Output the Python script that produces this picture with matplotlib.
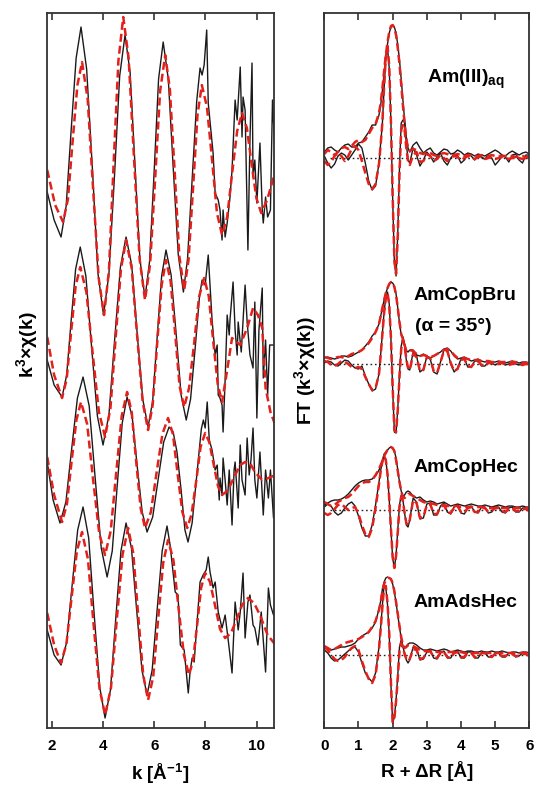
"""EXAFS k3-weighted spectra (left) and their Fourier transforms (right) for four Am samples."""

import matplotlib
matplotlib.use("Agg")  # no display
import matplotlib.pyplot as plt
import numpy as np

plt.rcParams["font.family"] = ["Liberation Sans", "DejaVu Sans"]
plt.rcParams["font.weight"] = "bold"
plt.rcParams["mathtext.fontset"] = "custom"
plt.rcParams["mathtext.rm"] = "Liberation Sans:bold"
plt.rcParams["mathtext.it"] = "Liberation Sans:bold"
plt.rcParams["mathtext.bf"] = "Liberation Sans:bold"

DATA_COLOR = "#1a1a1a"
FIT_COLOR = "#e3211c"

# ---- k-space spectra (stacked, arbitrary units) ----
# Am(III)aq
k_aq = [1.82, 2.09, 2.36, 2.56, 2.75, 2.95, 3.14, 3.36, 3.59, 3.80, 4.02, 4.23, 4.45, 4.65, 4.86,
        5.06, 5.25, 5.44, 5.64, 5.82, 6.00, 6.17, 6.35, 6.55, 6.74, 6.94, 7.14, 7.30, 7.48, 7.66,
        7.79, 7.87, 7.95, 8.05, 8.11, 8.30, 8.38, 8.50, 8.57, 8.65, 8.69, 8.77, 8.85, 8.96, 9.04,
        9.16, 9.24, 9.36, 9.43, 9.47, 9.55, 9.66, 9.74, 9.82, 9.86, 9.93, 10.01, 10.13, 10.22, 10.26,
        10.35, 10.43, 10.54, 10.62, 10.70]
chi_aq = [53.6, 50.8, 49.1, 52.2, 59.6, 67.0, 70.1, 65.9, 55.7, 45.5, 41.3, 45.4, 55.3, 65.2, 69.3,
          65.5, 56.2, 46.9, 43.0, 46.7, 55.8, 64.9, 68.6, 64.9, 56.1, 47.3, 43.6, 46.9, 54.8, 62.7,
          66.0, 65.3, 66.3, 69.8, 62.5, 57.5, 53.5, 52.8, 51.8, 48.8, 51.8, 49.1, 50.5, 53.1, 55.8,
          62.8, 60.8, 66.1, 59.1, 63.1, 61.8, 47.8, 58.8, 66.5, 55.1, 56.8, 52.5, 58.5, 51.8, 50.5,
          53.1, 51.1, 51.8, 62.8, 58.5]
kfit_aq = [1.82, 2.13, 2.44, 2.63, 2.81, 3.00, 3.18, 3.40, 3.61, 3.83, 4.04, 4.23, 4.41, 4.60, 4.79,
           5.00, 5.21, 5.43, 5.64, 5.84, 6.04, 6.23, 6.43, 6.61, 6.80, 6.98, 7.17, 7.34, 7.52, 7.69,
           7.86, 8.06, 8.26, 8.45, 8.65, 8.85, 9.04, 9.24, 9.43, 9.62, 9.80, 9.99, 10.18, 10.41, 10.69]
fit_aq = [55.8, 52.3, 50.6, 52.9, 58.6, 64.3, 66.6, 62.9, 54.0, 45.0, 41.3, 45.7, 56.2, 66.7, 71.1,
          67.0, 57.0, 46.9, 42.8, 46.4, 55.1, 63.7, 67.3, 63.9, 55.6, 47.2, 43.8, 46.8, 54.1, 61.3,
          64.3, 62.1, 56.8, 51.5, 49.3, 51.1, 55.4, 59.7, 61.5, 60.0, 56.5, 53.0, 51.5, 52.8, 55.3]

# AmCopBru
k_bru = [1.82, 2.09, 2.40, 2.58, 2.75, 2.93, 3.11, 3.33, 3.55, 3.78, 4.00, 4.23, 4.45, 4.68, 4.90,
         5.12, 5.33, 5.55, 5.76, 5.94, 6.11, 6.29, 6.46, 6.66, 6.86, 7.05, 7.25, 7.42, 7.60, 7.77,
         7.87, 7.99, 8.11, 8.26, 8.38, 8.46, 8.50, 8.57, 8.65, 8.69, 8.77, 8.85, 8.93, 8.96, 9.08,
         9.16, 9.24, 9.28, 9.40, 9.55, 9.63, 9.74, 9.86, 9.93, 10.01, 10.09, 10.22, 10.26, 10.35, 10.43,
         10.51, 10.70]
chi_bru = [36.8, 34.3, 33.1, 35.3, 40.6, 45.9, 48.1, 45.2, 38.2, 31.2, 28.3, 31.3, 38.7, 46.1, 49.1,
           46.3, 39.6, 32.9, 30.1, 32.7, 38.9, 45.2, 47.8, 45.3, 39.3, 33.3, 30.8, 32.9, 38.0, 43.2,
           44.8, 44.3, 47.3, 40.8, 37.3, 38.3, 33.3, 33.0, 32.3, 29.6, 34.8, 41.3, 39.3, 40.8, 44.6,
           39.8, 37.3, 40.6, 37.6, 44.3, 40.6, 37.3, 36.0, 42.6, 31.0, 39.8, 44.0, 35.0, 38.8, 33.3,
           38.3, 38.3]
kfit_bru = [1.82, 2.09, 2.40, 2.58, 2.75, 2.93, 3.11, 3.35, 3.59, 3.84, 4.08, 4.29, 4.49, 4.70, 4.90,
            5.12, 5.33, 5.55, 5.76, 5.94, 6.11, 6.29, 6.46, 6.64, 6.82, 6.99, 7.17, 7.36, 7.56, 7.75,
            7.95, 8.13, 8.30, 8.48, 8.65, 8.85, 9.04, 9.36, 9.63, 9.86, 10.05, 10.22, 10.35, 10.54, 10.70]
fit_bru = [39.1, 35.3, 33.0, 34.9, 39.5, 44.2, 46.1, 43.6, 37.6, 31.6, 29.1, 32.0, 38.9, 45.9, 48.8,
           46.0, 39.3, 32.6, 29.8, 32.3, 38.3, 44.3, 46.8, 44.7, 39.4, 34.2, 32.1, 34.0, 38.5, 43.1,
           45.0, 43.2, 38.8, 34.4, 32.6, 35.8, 39.0, 38.3, 40.0, 42.0, 41.3, 40.0, 34.0, 31.6, 30.5]

# AmCopHec
k_cop = [1.82, 2.05, 2.32, 2.55, 2.77, 3.00, 3.22, 3.46, 3.69, 3.93, 4.16, 4.36, 4.55, 4.75, 4.94,
         5.14, 5.33, 5.53, 5.72, 5.94, 6.15, 6.37, 6.58, 6.74, 6.89, 7.05, 7.20, 7.32, 7.48, 7.66,
         7.84, 7.92, 7.99, 8.07, 8.15, 8.26, 8.38, 8.46, 8.54, 8.57, 8.65, 8.69, 8.77, 8.85, 8.93,
         9.04, 9.12, 9.16, 9.28, 9.36, 9.43, 9.55, 9.63, 9.71, 9.78, 9.86, 9.93, 10.01, 10.13, 10.26,
         10.35, 10.46, 10.54, 10.66, 10.74]
chi_cop = [26.6, 22.8, 20.5, 22.6, 27.8, 33.0, 35.1, 32.2, 25.1, 18.0, 15.1, 17.7, 24.1, 30.5, 33.1,
           31.1, 26.3, 21.6, 19.6, 21.1, 24.8, 28.6, 30.1, 29.6, 27.6, 23.8, 19.8, 18.6, 20.5, 25.2,
           29.9, 30.8, 30.0, 32.6, 28.8, 27.8, 25.8, 26.3, 22.8, 25.0, 23.3, 27.0, 24.8, 22.3, 25.8,
           20.3, 25.8, 26.6, 22.0, 28.3, 24.8, 23.3, 29.0, 25.3, 26.8, 30.0, 24.8, 23.0, 27.6, 21.3,
           25.8, 23.0, 25.8, 21.0, 24.8]
kfit_cop = [1.82, 2.09, 2.40, 2.59, 2.77, 2.96, 3.14, 3.38, 3.61, 3.85, 4.08, 4.30, 4.51, 4.73, 4.94,
            5.12, 5.29, 5.47, 5.64, 5.87, 6.09, 6.32, 6.54, 6.73, 6.91, 7.10, 7.29, 7.46, 7.64, 7.81,
            7.99, 8.15, 8.32, 8.49, 8.65, 8.89, 9.12, 9.36, 9.55, 9.74, 9.93, 10.22, 10.46, 10.74]
fit_cop = [27.1, 23.3, 20.6, 22.4, 26.6, 30.8, 32.6, 30.4, 24.9, 19.5, 17.3, 19.7, 25.4, 31.2, 33.6,
           31.6, 26.8, 22.0, 20.0, 21.6, 25.5, 29.4, 31.0, 29.4, 25.5, 21.6, 20.0, 21.4, 24.7, 28.1,
           29.5, 28.6, 26.4, 24.2, 23.3, 23.8, 25.1, 26.3, 26.6, 26.5, 25.6, 24.8, 25.0, 25.3]

# AmAdsHec
k_ads = [1.82, 2.09, 2.36, 2.58, 2.79, 3.01, 3.22, 3.44, 3.65, 3.87, 4.08, 4.29, 4.49, 4.70, 4.90,
         5.11, 5.31, 5.52, 5.72, 5.92, 6.11, 6.31, 6.50, 6.62, 6.82, 6.93, 7.02, 7.17, 7.33, 7.40,
         7.48, 7.56, 7.68, 7.79, 7.91, 8.03, 8.11, 8.18, 8.30, 8.38, 8.50, 8.65, 8.77, 8.89, 9.04,
         9.16, 9.28, 9.36, 9.47, 9.55, 9.66, 9.74, 9.86, 9.93, 10.05, 10.18, 10.35, 10.46, 10.54, 10.66,
         10.74]
chi_ads = [9.8, 7.3, 6.3, 8.6, 14.2, 19.8, 22.1, 19.0, 11.5, 4.1, 1.0, 3.8, 10.7, 17.7, 20.5,
           18.0, 11.9, 5.8, 3.3, 5.8, 11.7, 17.7, 20.2, 18.3, 13.6, 13.3, 8.3, 7.8, 3.5, 5.6,
           7.0, 6.6, 10.8, 14.6, 15.3, 15.8, 17.1, 15.6, 14.0, 14.6, 11.6, 10.0, 11.3, 8.8, 5.5,
           12.6, 9.8, 11.6, 15.5, 9.0, 12.6, 13.3, 10.3, 10.0, 8.3, 11.6, 5.6, 14.0, 12.3, 11.3,
           12.8]
kfit_ads = [1.82, 2.09, 2.36, 2.57, 2.77, 2.98, 3.18, 3.41, 3.63, 3.86, 4.08, 4.31, 4.53, 4.76, 4.98,
            5.18, 5.37, 5.57, 5.76, 5.96, 6.15, 6.35, 6.54, 6.75, 6.95, 7.16, 7.36, 7.52, 7.68, 7.83,
            7.99, 8.18, 8.38, 8.57, 8.77, 9.00, 9.24, 9.43, 9.66, 9.90, 10.13, 10.43, 10.74]
fit_ads = [11.5, 8.3, 6.5, 8.4, 13.0, 17.7, 19.6, 16.9, 10.4, 4.0, 1.3, 4.0, 10.6, 17.3, 20.0,
           17.5, 11.4, 5.3, 2.8, 5.1, 10.8, 16.5, 18.8, 16.8, 12.0, 7.3, 5.3, 6.8, 10.4, 14.0,
           15.5, 14.6, 12.2, 9.9, 9.0, 9.5, 11.0, 12.3, 13.0, 12.5, 11.3, 9.3, 8.3]

# ---- R-space: magnitude and imaginary part, relative to each baseline ----
R_FT = ([0.0, 0.1, 0.2, 0.3, 0.4, 0.5, 0.6, 0.7, 0.8, 0.9, 1.0, 1.1, 1.2, 1.3, 1.4, 1.5, 1.6]
        + [1.65, 1.7, 1.75, 1.8, 1.85, 1.9, 1.95, 2.0, 2.05, 2.1, 2.15, 2.2, 2.25, 2.3, 2.35, 2.4, 2.45, 2.5]
        + [2.6, 2.7, 2.8, 2.9, 3.0, 3.1, 3.2, 3.3, 3.4, 3.5, 3.6, 3.7, 3.8, 3.9, 4.0, 4.1, 4.2, 4.3,
           4.4, 4.5, 4.6, 4.7, 4.8, 4.9, 5.0, 5.1, 5.2, 5.3, 5.4, 5.5, 5.6, 5.7, 5.8, 5.9, 6.0])
ft_offsets = [57.0, 36.4, 21.8, 7.3]

mag_aq = ([0.6, 1.0, 1.1, 0.8, 0.6, 1.0, 1.3, 1.4, 1.1, 1.1, 1.5, 1.6, 2.1, 2.6, 3.3, 3.3, 4.3]
          + [5.3, 6.8, 8.5, 10.1, 11.4, 12.5, 13.1, 13.3, 13.1, 12.5, 11.3, 9.8, 7.9, 5.8, 3.8, 2.1, 1.0, 0.6]
          + [1.3, 1.6, 1.0, 0.5, 0.8, 1.0, 0.5, 0.3, 0.6, 0.9, 0.8, 0.4, 0.5, 0.8, 0.6, 0.3, 0.5, 0.4,
             0.2, 0.4, 0.3, 0.2, 0.4, 0.6, 0.8, 0.6, 0.3, 0.2, 0.5, 0.7, 0.5, 0.3, 0.5, 0.6, 0.4])
im_aq = ([0.2, -0.5, -1.0, -0.6, 0.2, 0.5, 0.3, -0.2, 0.3, 0.8, 1.4, 1.0, -0.5, -2.3, -3.2, -2.8, -0.5]
         + [1.5, 3.5, 7.0, 10.0, 11.0, 9.0, 3.5, -4.0, -10.5, -11.8, -7.5, -1.0, 3.5, 3.8, 3.6, 1.5, -0.2, -0.5]
         + [1.0, 0.3, -0.8, -0.2, 0.6, 0.2, -0.4, 0.1, 0.5, -0.3, -0.7, 0.0, 0.4, 0.2, -0.5, -0.2, 0.4, 0.2,
            -0.2, 0.2, 0.1, -0.1, 0.3, 0.0, -0.7, -0.3, 0.2, 0.1, -0.4, 0.3, 0.4, -0.2, -0.5, 0.3, 0.3])
magfit_aq = ([0.4, 0.8, 0.6, 0.3, 0.6, 1.0, 1.1, 0.9, 1.2, 1.6, 1.8, 1.6, 1.8, 2.4, 3.0, 3.4, 4.5]
             + [5.5, 7.0, 8.7, 10.3, 11.6, 12.6, 13.2, 13.3, 13.0, 12.3, 11.0, 9.4, 7.4, 5.3, 3.4, 1.9, 1.0, 0.7]
             + [0.9, 0.8, 0.5, 0.4, 0.6, 0.5, 0.3, 0.2, 0.4, 0.5, 0.4, 0.2, 0.3, 0.4, 0.3, 0.2, 0.3, 0.3,
                0.2, 0.2, 0.3, 0.2, 0.2, 0.3, 0.2, 0.2, 0.2, 0.2, 0.2, 0.2, 0.1, 0.2, 0.2, 0.1, 0.1])
imfit_aq = ([-0.3, -0.7, -0.4, 0.2, 0.5, 0.2, -0.3, 0.2, 0.9, 1.2, 0.8, -0.3, -1.5, -2.6, -3.1, -2.6, -0.6]
            + [1.4, 3.6, 7.2, 10.1, 11.2, 9.2, 3.6, -3.8, -10.2, -11.6, -7.8, -1.5, 2.8, 3.3, 2.8, 1.0, -0.3, -0.7]
            + [0.3, 0.6, -0.4, -0.3, 0.4, 0.2, -0.3, -0.1, 0.3, 0.0, -0.3, 0.0, 0.2, 0.1, -0.2, 0.0, 0.2, 0.0,
               -0.1, 0.1, 0.1, -0.1, 0.0, 0.1, -0.1, 0.0, 0.1, 0.0, -0.1, 0.0, 0.1, 0.0, -0.1, 0.0, 0.0])

mag_bru = ([0.6, 0.7, 0.6, 0.5, 0.6, 0.8, 0.8, 0.7, 0.8, 1.0, 1.2, 1.4, 1.8, 2.2, 2.8, 3.2, 4.0]
           + [4.8, 5.6, 6.4, 7.1, 7.6, 8.0, 8.2, 8.1, 7.8, 7.0, 5.6, 4.1, 2.9, 2.7, 2.0, 1.3, 1.2, 1.4]
           + [1.4, 0.9, 0.8, 1.0, 0.8, 0.6, 0.8, 1.0, 1.2, 1.5, 1.6, 1.3, 0.8, 0.5, 0.6, 0.7, 0.5, 0.3,
              0.4, 0.5, 0.3, 0.2, 0.3, 0.2, 0.2, 0.3, 0.2, 0.1, 0.2, 0.3, 0.2, 0.1, 0.2, 0.2, 0.1])
im_bru = ([0.1, 0.3, 0.2, -0.1, -0.2, 0.1, 0.4, 0.3, -0.1, -0.4, -0.5, -0.2, -1.2, -2.0, -2.7, -2.5, -1.0]
          + [1.0, 3.1, 5.2, 6.7, 7.2, 6.0, 2.5, -2.5, -6.8, -6.9, -4.5, -1.0, 1.8, 2.6, 1.8, 0.4, -0.5, -0.6]
          + [1.2, 0.8, -0.8, -0.5, 0.7, 0.5, -0.8, -1.0, 0.2, 1.4, 1.4, 0.0, -0.8, -0.4, 0.5, 0.5, -0.3, -0.3,
             0.3, 0.3, -0.2, -0.2, 0.2, 0.1, -0.1, 0.1, 0.1, -0.1, 0.0, 0.2, 0.0, -0.1, 0.1, 0.1, 0.0])
magfit_bru = ([0.7, 0.6, 0.5, 0.6, 0.7, 0.7, 0.6, 0.8, 1.0, 1.1, 1.2, 1.4, 1.7, 2.1, 2.6, 3.2, 4.0]
              + [4.8, 5.6, 6.4, 7.1, 7.6, 8.0, 8.2, 8.1, 7.7, 6.9, 5.6, 4.2, 3.0, 2.5, 1.9, 1.3, 1.2, 1.4]
              + [1.3, 1.0, 0.8, 0.9, 0.8, 0.7, 0.8, 1.0, 1.2, 1.4, 1.5, 1.3, 0.9, 0.6, 0.6, 0.6, 0.5, 0.4,
                 0.4, 0.4, 0.3, 0.3, 0.3, 0.2, 0.2, 0.2, 0.2, 0.2, 0.2, 0.2, 0.2, 0.1, 0.1, 0.1, 0.1])
imfit_bru = ([0.3, 0.2, -0.1, -0.2, 0.0, 0.3, 0.2, 0.0, -0.3, -0.4, -0.3, -0.5, -1.3, -2.0, -2.6, -2.4, -1.0]
             + [0.9, 3.0, 5.1, 6.6, 7.1, 5.9, 2.6, -2.3, -6.6, -6.8, -4.6, -1.3, 1.5, 2.4, 1.8, 0.5, -0.4, -0.6]
             + [1.0, 0.7, -0.7, -0.6, 0.7, 0.6, -0.7, -0.9, 0.2, 1.3, 1.3, 0.1, -0.7, -0.5, 0.4, 0.5, -0.2, -0.3,
                0.2, 0.3, -0.1, -0.2, 0.1, 0.1, -0.1, 0.0, 0.1, 0.0, -0.1, 0.0, 0.1, 0.0, -0.1, 0.0, 0.0])

mag_cop = ([0.5, 0.7, 0.9, 1.0, 1.0, 1.1, 1.3, 1.6, 2.0, 2.4, 2.7, 2.9, 3.0, 3.0, 3.1, 3.4, 4.0]
           + [4.4, 4.9, 5.6, 5.8, 6.0, 6.2, 6.3, 6.2, 5.9, 5.2, 4.0, 2.8, 1.9, 1.4, 1.5, 1.8, 1.9, 1.8]
           + [1.4, 1.2, 1.3, 1.0, 0.8, 0.9, 0.8, 0.6, 0.7, 0.8, 0.6, 0.4, 0.5, 0.6, 0.5, 0.4, 0.5, 0.6,
              0.5, 0.4, 0.4, 0.5, 0.4, 0.3, 0.4, 0.5, 0.4, 0.3, 0.4, 0.4, 0.3, 0.3, 0.4, 0.3, 0.3])
im_cop = ([0.3, 0.6, 0.4, -0.2, -0.5, -0.3, 0.2, 0.6, 0.8, 0.4, -0.6, -1.8, -2.6, -2.6, -1.5, 0.5, 2.8]
          + [4.0, 4.8, 5.5, 5.0, 3.5, 1.0, -2.0, -4.8, -5.8, -4.5, -2.0, 0.5, 1.5, 1.0, -0.3, -1.5, -1.7, -1.0]
          + [1.2, 0.8, -0.9, -0.8, 0.6, 0.7, -0.5, -0.5, 0.4, 0.7, -0.2, -0.4, 0.3, 0.5, -0.3, -0.4, 0.3, 0.4,
             -0.2, -0.3, 0.3, 0.3, -0.3, -0.2, 0.3, 0.3, -0.2, -0.3, 0.2, 0.3, -0.2, -0.2, 0.2, 0.2, -0.1])
magfit_cop = ([0.8, 0.6, 0.4, 0.5, 0.8, 1.0, 1.2, 1.3, 1.6, 2.0, 2.4, 2.7, 2.8, 2.8, 3.0, 3.5, 4.1]
              + [4.5, 4.9, 5.4, 5.7, 6.0, 6.2, 6.3, 6.2, 5.9, 5.0, 3.9, 2.8, 1.9, 1.3, 1.2, 1.4, 1.6, 1.6]
              + [1.4, 1.2, 1.0, 0.8, 0.7, 0.7, 0.6, 0.5, 0.5, 0.5, 0.4, 0.4, 0.4, 0.4, 0.3, 0.3, 0.3, 0.3,
                 0.3, 0.3, 0.3, 0.3, 0.2, 0.2, 0.2, 0.2, 0.2, 0.2, 0.2, 0.2, 0.2, 0.2, 0.2, 0.2, 0.2])
imfit_cop = ([-0.3, -0.5, -0.3, 0.1, 0.5, 0.6, 0.3, 0.0, 0.2, 0.3, -0.4, -1.5, -2.4, -2.7, -1.8, 0.2, 2.6]
             + [3.9, 4.9, 5.4, 5.0, 3.6, 1.1, -1.9, -4.7, -5.8, -4.6, -2.2, 0.3, 1.3, 0.9, -0.3, -1.3, -1.5, -1.0]
             + [1.0, 0.7, -0.8, -0.7, 0.5, 0.6, -0.4, -0.4, 0.3, 0.5, -0.2, -0.3, 0.2, 0.4, -0.2, -0.3, 0.2, 0.3,
                -0.2, -0.2, 0.2, 0.2, -0.2, -0.1, 0.2, 0.2, -0.1, -0.2, 0.1, 0.2, -0.1, -0.1, 0.1, 0.1, -0.1])

mag_ads = ([0.7, 0.6, 0.5, 0.6, 0.7, 0.8, 0.8, 0.9, 1.0, 1.2, 1.6, 1.9, 2.1, 2.3, 2.7, 3.3, 4.6]
           + [5.4, 6.6, 7.3, 7.7, 7.8, 7.7, 7.6, 7.1, 6.3, 5.2, 4.0, 2.8, 1.7, 0.9, 0.7, 0.9, 1.1, 1.2]
           + [1.2, 1.0, 0.7, 0.5, 0.5, 0.6, 0.5, 0.4, 0.5, 0.6, 0.5, 0.3, 0.4, 0.5, 0.4, 0.3, 0.4, 0.4,
              0.3, 0.3, 0.4, 0.3, 0.3, 0.4, 0.3, 0.3, 0.4, 0.3, 0.2, 0.3, 0.3, 0.2, 0.3, 0.3, 0.2])
im_ads = ([0.5, 0.2, -0.3, -0.6, -0.5, -0.2, 0.1, 0.4, 0.7, 0.8, 0.3, -0.8, -1.8, -2.3, -2.7, -1.8, 0.8]
          + [2.8, 5.0, 7.0, 6.8, 5.0, 2.0, -3.0, -6.8, -6.2, -4.5, -2.0, 0.8, 1.5, 0.8, 0.2, -0.5, -0.8, -0.5]
          + [0.8, 0.6, -0.5, -0.4, 0.3, 0.5, -0.3, -0.4, 0.2, 0.4, -0.3, -0.3, 0.3, 0.4, -0.3, -0.3, 0.3, 0.3,
             -0.3, -0.3, 0.2, 0.3, -0.2, -0.2, 0.2, 0.2, -0.2, -0.2, 0.2, 0.2, -0.2, -0.1, 0.2, 0.1, -0.1])
magfit_ads = ([0.9, 0.7, 0.5, 0.6, 0.8, 1.0, 1.2, 1.3, 1.4, 1.5, 1.6, 1.8, 2.0, 2.3, 2.8, 3.4, 4.5]
              + [5.3, 6.4, 7.1, 7.5, 7.7, 7.7, 7.6, 7.2, 6.4, 5.3, 4.1, 2.9, 1.8, 1.0, 0.7, 0.8, 1.0, 1.0]
              + [0.9, 0.7, 0.5, 0.4, 0.4, 0.4, 0.4, 0.3, 0.3, 0.3, 0.3, 0.3, 0.3, 0.3, 0.3, 0.2, 0.2, 0.2,
                 0.2, 0.2, 0.2, 0.2, 0.2, 0.2, 0.2, 0.2, 0.2, 0.2, 0.2, 0.2, 0.2, 0.2, 0.2, 0.2, 0.2])
imfit_ads = ([0.8, 0.5, 0.0, -0.4, -0.6, -0.5, -0.2, 0.3, 0.7, 0.9, 0.5, -0.6, -1.6, -2.4, -2.8, -2.0, 0.6]
             + [2.6, 4.8, 6.8, 6.9, 5.2, 2.2, -2.8, -6.7, -6.3, -4.6, -2.3, 0.4, 1.2, 0.7, 0.1, -0.4, -0.6, -0.4]
             + [0.6, 0.5, -0.4, -0.3, 0.3, 0.4, -0.2, -0.3, 0.2, 0.3, -0.2, -0.3, 0.2, 0.3, -0.2, -0.2, 0.2, 0.2,
                -0.2, -0.2, 0.2, 0.2, -0.1, -0.2, 0.1, 0.1, -0.1, -0.1, 0.1, 0.1, -0.1, -0.1, 0.1, 0.1, -0.1])

sample_labels = ["Am(III)$_{aq}$", "AmCopBru", "AmCopHec", "AmAdsHec"]
label_offsets = [7.5, 6.4, 3.8, 4.8]  # label baseline above each FT baseline
k_ticks = [2, 4, 6, 8, 10]
r_ticks = [0, 1, 2, 3, 4, 5, 6]


def style_axis(ax, ticks, xlim):
    """Boxed panel with inward ticks on top and bottom, no y ticks."""
    ax.set_xlim(*xlim)
    ax.set_ylim(0, 71.5)
    ax.set_xticks(ticks)
    ax.set_yticks([])
    ax.tick_params(axis="x", direction="in", top=True, length=5, width=1.2,
                   labelsize=11, pad=8, color="#333333")
    for lbl in ax.get_xticklabels():
        lbl.set_fontweight("bold")
    for spine in ax.spines.values():
        spine.set_linewidth(1.3)
        spine.set_color("#333333")


fig = plt.figure(figsize=(5.35, 7.85), dpi=100)
ax_k = fig.add_axes([0.0873, 0.0726, 0.4249, 0.9108])
ax_r = fig.add_axes([0.6062, 0.0726, 0.3832, 0.9108])

# k-space
spectra = [
    (k_aq, chi_aq, kfit_aq, fit_aq),
    (k_bru, chi_bru, kfit_bru, fit_bru),
    (k_cop, chi_cop, kfit_cop, fit_cop),
    (k_ads, chi_ads, kfit_ads, fit_ads),
]
for k, chi, kf, fit in spectra:
    ax_k.plot(k, chi, color=DATA_COLOR, lw=1.0)
    ax_k.plot(kf, fit, color=FIT_COLOR, lw=1.8, dashes=(3.2, 1.6))

style_axis(ax_k, k_ticks, (1.8, 10.68))
ax_k.set_xlabel("k [Å$^{-1}$]", fontsize=13.5, fontweight="bold", labelpad=6)
ax_k.set_ylabel("k$^{3}$×χ(k)", fontsize=14, fontweight="bold")
ax_k.yaxis.set_label_coords(-0.03, 0.536)

# R-space
transforms = [
    (mag_aq, im_aq, magfit_aq, imfit_aq),
    (mag_bru, im_bru, magfit_bru, imfit_bru),
    (mag_cop, im_cop, magfit_cop, imfit_cop),
    (mag_ads, im_ads, magfit_ads, imfit_ads),
]
R = np.array(R_FT)
for (mag, im, magf, imf), off in zip(transforms, ft_offsets):
    ax_r.axhline(off, xmin=0.03, xmax=1.0, color="#222222", lw=1.0, dashes=(1.2, 2.0))
    ax_r.plot(R, off + np.array(mag), color=DATA_COLOR, lw=1.0)
    ax_r.plot(R, off + np.array(im), color=DATA_COLOR, lw=1.0)
    ax_r.plot(R, off + np.array(magf), color=FIT_COLOR, lw=1.8, dashes=(3.2, 1.6))
    ax_r.plot(R, off + np.array(imf), color=FIT_COLOR, lw=1.8, dashes=(3.2, 1.6))

label_x = [3.0, 2.6, 2.6, 2.6]
for text, x, off, dy in zip(sample_labels, label_x, ft_offsets, label_offsets):
    ax_r.text(x, off + dy, text, fontsize=14, fontweight="bold", va="baseline")
ax_r.text(2.65, ft_offsets[1] + 3.3, "(α = 35°)", fontsize=14, fontweight="bold", va="baseline")

style_axis(ax_r, r_ticks, (0, 6))
ax_r.set_xlabel("R + ΔR [Å]", fontsize=13.5, fontweight="bold", labelpad=6)
ax_r.set_ylabel("FT (k$^{3}$×χ(k))", fontsize=14, fontweight="bold")
ax_r.yaxis.set_label_coords(-0.03, 0.5)

fig.savefig("out.png", dpi=100)
